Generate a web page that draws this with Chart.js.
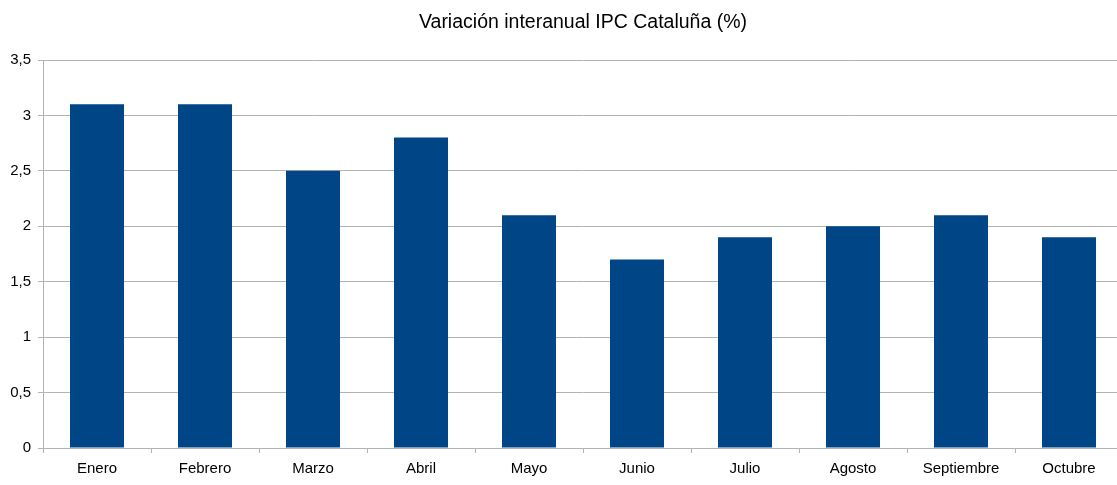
<!DOCTYPE html>
<html>
<head>
<meta charset="utf-8">
<script src="https://cdn.jsdelivr.net/npm/chart.js@4.4.0/dist/chart.umd.min.js"></script>
<style>
  html, body { margin: 0; padding: 0; background: #fff; overflow: hidden; }
  #wrap { width: 1117px; height: 485px; overflow: hidden; }
</style>
</head>
<body>
<!-- el área del gráfico original se sale un poco por la derecha -->
<div id="wrap"><canvas id="myChart" width="1123" height="485"></canvas></div>
<script>
// datos del gráfico
const meses = ['Enero', 'Febrero', 'Marzo', 'Abril', 'Mayo', 'Junio', 'Julio', 'Agosto', 'Septiembre', 'Octubre'];
const ipc = [3.1, 3.1, 2.5, 2.8, 2.1, 1.7, 1.9, 2.0, 2.1, 1.9];
const titulo = 'Variación interanual IPC Cataluña (%)';

const gridColor = '#b3b3b3';
const fontFamily = '"Liberation Sans", Arial, sans-serif';

// título centrado sobre el área del gráfico (como LibreOffice)
const titlePlugin = {
  id: 'tituloCentrado',
  afterDraw: (chart) => {
    const ctx = chart.ctx;
    const area = chart.chartArea;
    ctx.save();
    ctx.font = '19.5px ' + fontFamily;
    ctx.fillStyle = '#000';
    ctx.textAlign = 'center';
    ctx.textBaseline = 'middle';
    ctx.fillText(titulo, (area.left + area.right) / 2, 23);
    ctx.restore();
  }
};

new Chart(document.getElementById('myChart').getContext('2d'), {
  type: 'bar',
  data: {
    labels: meses,
    datasets: [{
      label: 'IPC',
      data: ipc,
      backgroundColor: '#004586',
      borderWidth: 0,
      barPercentage: 0.5,
      categoryPercentage: 1.0,
    }],
  },
  options: {
    responsive: false,
    animation: false,
    layout: { padding: { top: 60, right: 0, bottom: 0, left: 0 } },
    plugins: {
      legend: { display: false },
      title: { display: false },
      tooltip: { enabled: false },
    },
    scales: {
      x: {
        offset: true,
        grid: {
          offset: true,
          drawOnChartArea: false,
          color: gridColor,
          tickLength: 5,
        },
        border: { color: gridColor },
        ticks: {
          color: '#000',
          font: { family: fontFamily, size: 15 },
          padding: 7,
          maxRotation: 0,
          autoSkip: false,
        },
        afterFit: (scale) => { scale.height = 37; },
      },
      y: {
        min: 0,
        max: 3.5,
        grid: { color: gridColor, tickLength: 5 },
        border: { color: gridColor },
        ticks: {
          stepSize: 0.5,
          color: '#000',
          font: { family: fontFamily, size: 15 },
          padding: 7,
          callback: (v) => String(v).replace('.', ','),
        },
        afterFit: (scale) => { scale.width = 43; },
      },
    },
  },
  plugins: [titlePlugin],
});
</script>
</body>
</html>
